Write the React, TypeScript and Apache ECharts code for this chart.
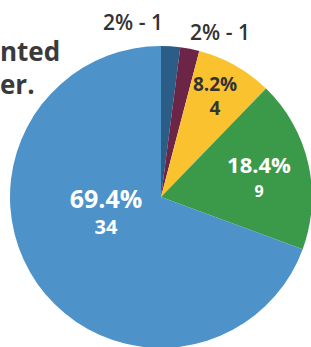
import React, { useEffect, useRef } from "react";
import * as echarts from "echarts";

const categories = ["A", "B", "C", "D", "E"];
const values = [1, 1, 4, 9, 34];
const colors = ["#2b5d86", "#6c2447", "#f9c22e", "#3b9a4a", "#4d92c9"];
const titleLines = ["nted", "er."];

// label anchor points (styling)
const labelPos: [number, number][] = [
  [133, 22],
  [220, 32],
  [215, 96],
  [259, 177],
  [106, 212],
];

export default function App() {
  const ref = useRef<HTMLDivElement>(null);
  useEffect(() => {
    document.body.style.margin = "0";
    const chart = echarts.init(ref.current!, null, { renderer: "svg" });
    const font = "'Open Sans', 'Noto Sans', sans-serif";
    const outside = {
      position: "outside",
      color: "#333",
      fontSize: 21,
      fontWeight: 600,
      overflow: "none",
      width: 100,
    };
    const itemLabels = [
      outside,
      outside,
      {
        position: "inside",
        rich: {
          a: { color: "#333", fontSize: 19, fontWeight: 700, lineHeight: 24, fontFamily: font },
          b: { color: "#333", fontSize: 19, fontWeight: 700, lineHeight: 24, fontFamily: font },
        },
      },
      {
        position: "inside",
        rich: {
          a: { color: "#fff", fontSize: 22, fontWeight: 700, lineHeight: 27, fontFamily: font },
          b: { color: "#fff", fontSize: 16, fontWeight: 700, lineHeight: 27, fontFamily: font },
        },
      },
      {
        position: "inside",
        rich: {
          a: { color: "#fff", fontSize: 25, fontWeight: 700, lineHeight: 28, fontFamily: font },
          b: { color: "#fff", fontSize: 20, fontWeight: 700, lineHeight: 28, fontFamily: font },
        },
      },
    ];
    chart.setOption({
      animation: false,
      graphic: titleLines.map((t, i) => ({
        type: "text",
        left: 0,
        top: 38 + i * 33,
        style: {
          text: t,
          fill: "#3a3a3a",
          font: `bold 26px ${font}`,
        },
      })),
      series: [
        {
          type: "pie",
          center: [161, 197],
          radius: 151,
          startAngle: 90,
          clockwise: true,
          percentPrecision: 1,
          label: {
            fontFamily: font,
            alignTo: "none",
            formatter: (p: any) => {
              const pct = `${+Number(p.percent).toFixed(1)}%`;
              if (p.dataIndex < 2) return `${pct} - ${p.value}`;
              return `{a|${pct}}\n{b|${p.value}}`;
            },
          },
          labelLine: { show: false },
          labelLayout: (params: any) => {
            const pos = labelPos[params.dataIndex];
            return { x: pos[0], y: pos[1], align: "center", verticalAlign: "middle" };
          },
          data: categories.map((c, i) => ({
            name: c,
            value: values[i],
            itemStyle: { color: colors[i] },
            label: itemLabels[i],
          })),
        },
      ],
    });
    return () => chart.dispose();
  }, []);
  return <div ref={ref} style={{ width: 311, height: 347 }} />;
}
